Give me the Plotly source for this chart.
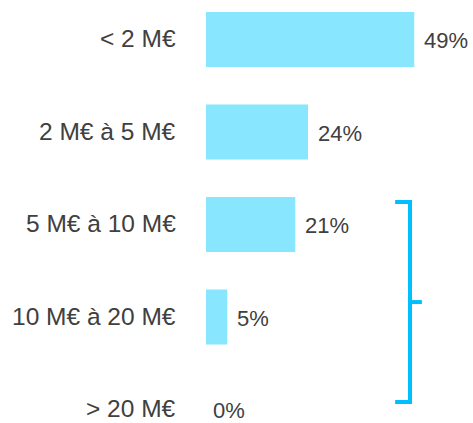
import plotly.graph_objects as go

# Répartition par tranche de chiffre d'affaires
categories = ["< 2 M€", "2 M€ à 5 M€", "5 M€ à 10 M€", "10 M€ à 20 M€", "> 20 M€"]
shares = [49, 24, 21, 5, 0]
value_labels = ["49%", "24%", "21%", "5%", "0%"]

positions = list(range(len(categories)))

BAR_COLOR = "#88E6FF"
BRACKET_COLOR = "#00BFFF"
TEXT_COLOR = "#404040"
FONT = "Liberation Sans, Arial, sans-serif"

fig = go.Figure(
    go.Bar(
        x=shares,
        y=positions,
        orientation="h",
        width=0.595,
        marker=dict(color=BAR_COLOR, line=dict(width=0)),
        hoverinfo="skip",
    )
)

# Libellés des tranches, alignés à droite à gauche des barres
for pos, cat in zip(positions, categories):
    fig.add_annotation(
        x=0, y=pos, text=cat,
        xref="paper", yref="y",
        xanchor="right", yanchor="middle",
        xshift=-29, yshift=1, borderpad=0,
        showarrow=False,
        font=dict(family=FONT, size=24.5, color=TEXT_COLOR),
    )

# Étiquettes de valeur à droite de chaque barre
for pos, share, label in zip(positions, shares, value_labels):
    fig.add_annotation(
        x=share, y=pos, text=label,
        xref="x", yref="y",
        xanchor="left", yanchor="middle",
        xshift=9 if share else 6, yshift=-1, borderpad=0,
        showarrow=False,
        font=dict(family=FONT, size=22, color=TEXT_COLOR),
    )

# Accolade regroupant les tranches de 5 M€ à plus de 20 M€
bx, hook, tick = 48, 44.5, 50.8
y_top, y_bot = 1.757, 3.92
y_mid = (y_top + y_bot) / 2
line = dict(color=BRACKET_COLOR, width=4)
fig.add_shape(
    type="path",
    path=f"M {hook},{y_top} L {bx},{y_top} L {bx},{y_bot} L {hook},{y_bot}",
    xref="x", yref="y", line=line,
)
fig.add_shape(
    type="line", x0=bx, x1=tick, y0=y_mid, y1=y_mid,
    xref="x", yref="y", line=line,
)

fig.update_layout(
    width=473,
    height=423,
    margin=dict(l=206, r=12, t=0, b=0),
    paper_bgcolor="white",
    plot_bgcolor="white",
    showlegend=False,
    font=dict(family=FONT, color=TEXT_COLOR),
    xaxis=dict(range=[0, 60], visible=False, fixedrange=True),
    yaxis=dict(
        range=[4.146, -0.427],
        showticklabels=False,
        showgrid=False,
        zeroline=False,
        showline=False,
        ticks="",
        fixedrange=True,
    ),
)

fig.write_html("out.html")
